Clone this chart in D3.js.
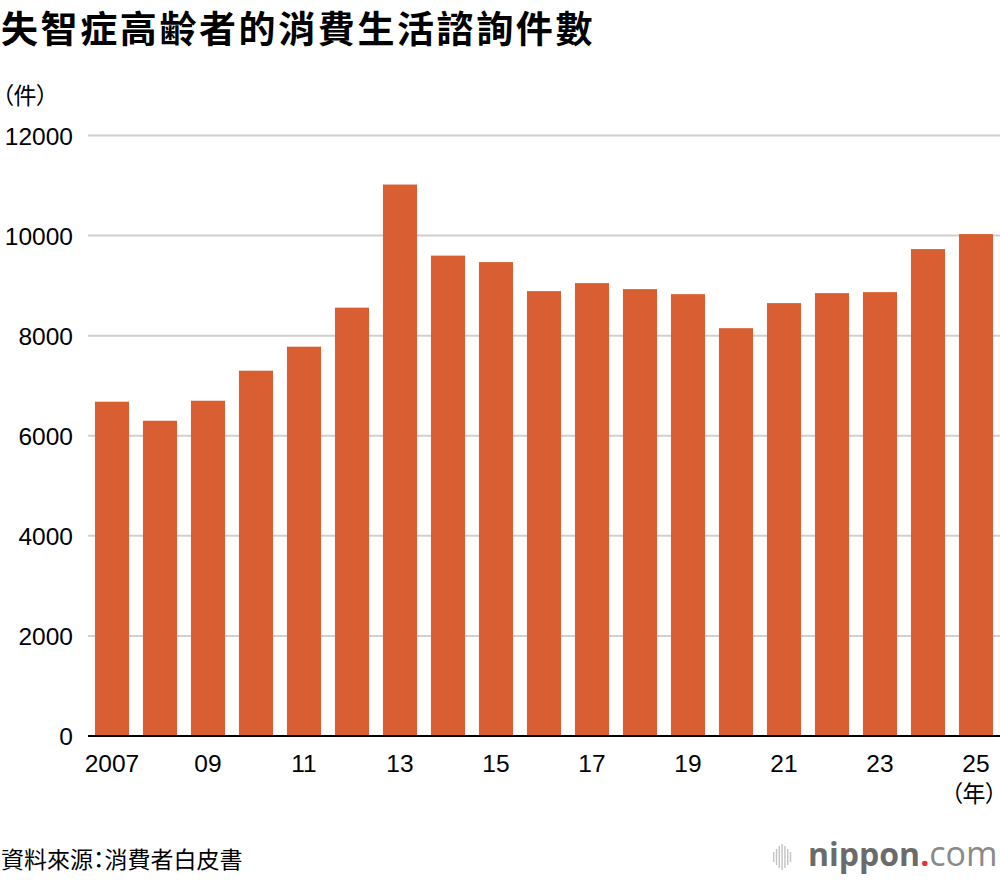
<!DOCTYPE html>
<html><head><meta charset="utf-8">
<script src="https://cdn.jsdelivr.net/npm/d3@7"></script>
<style>body{margin:0;background:#fff;}svg{display:block;font-family:"Noto Sans CJK TC","Noto Sans",sans-serif;}
.palt{font-feature-settings:"palt";}</style>
</head><body>
<svg id="c" width="1000" height="880"></svg>
<script>
const years = ["2007","2008","2009","2010","2011","2012","2013","2014","2015","2016","2017","2018","2019","2020","2021","2022","2023","2024","2025"];
const counts = [6680,6300,6700,7300,7780,8560,11020,9600,9470,8890,9050,8930,8830,8150,8650,8850,8870,9730,10030];
const yTicks = [0,2000,4000,6000,8000,10000,12000];
const xTickLabels = {"2007":"2007","2009":"09","2011":"11","2013":"13","2015":"15","2017":"17","2019":"19","2021":"21","2023":"23","2025":"25"};
const title = "失智症高齢者的消費生活諮詢件數";
const unitY = "（件）";
const unitX = "（年）";
const source = "資料來源：消費者白皮書";

const svg = d3.select("#c");
const x = d3.scaleBand().domain(years).range([88,1000]).paddingInner(0.29).paddingOuter(0.145);
const y = d3.scaleLinear().domain([0,12000]).range([736,135.5]);
const numFont = "'Liberation Sans',Arial,sans-serif";

svg.append("text").attr("x",1).attr("y",43).attr("font-size",37).attr("font-weight","bold").attr("letter-spacing",2.6).attr("fill","#000").text(title);
svg.append("text").attr("class","palt").attr("x",2).attr("y",104).attr("font-size",23).attr("fill","#000").text(unitY);

// gridlines
svg.append("g").selectAll("line").data(yTicks.filter(d=>d>0)).join("line")
  .attr("x1",88).attr("x2",1000).attr("y1",d=>y(d)).attr("y2",d=>y(d))
  .attr("stroke","#cfcfcf").attr("stroke-width",2);

// y labels
svg.append("g").selectAll("text").data(yTicks).join("text")
  .attr("x",73).attr("y",d=>y(d)+9).attr("text-anchor","end")
  .attr("font-family",numFont).attr("font-size",24.5).attr("fill","#000")
  .text(d=>d);

// bars
svg.append("g").selectAll("rect").data(years).join("rect")
  .attr("x",d=>x(d)).attr("width",x.bandwidth())
  .attr("y",(d,i)=>y(counts[i])).attr("height",(d,i)=>y(0)-y(counts[i]))
  .attr("fill","#d95f33");

// baseline
svg.append("line").attr("x1",88).attr("x2",1000).attr("y1",y(0)).attr("y2",y(0)).attr("stroke","#000").attr("stroke-width",2);

// x labels
svg.append("g").selectAll("text").data(years.filter(d=>xTickLabels[d])).join("text")
  .attr("x",d=>x(d)+x.bandwidth()/2).attr("y",772).attr("text-anchor","middle")
  .attr("font-family",numFont).attr("font-size",24.5).attr("fill","#000")
  .text(d=>xTickLabels[d]);
svg.append("text").attr("class","palt").attr("x",x("2025")+x.bandwidth()/2-2).attr("y",802).attr("text-anchor","middle").attr("font-size",23).attr("fill","#000").text(unitX);

// source
svg.append("text").attr("class","palt").attr("x",1).attr("y",868).attr("font-size",23).attr("fill","#000").text(source);

// logo
const logo = svg.append("g");
const barsH = [10,16,22,26,22,16,10];
barsH.forEach((h,i)=>{
  logo.append("rect").attr("x",773+i*2.8).attr("y",857-h/2).attr("width",1.4).attr("height",h).attr("fill","#c4c4c4");
});
const t1 = logo.append("text").attr("x",808).attr("y",866).attr("font-family","'Open Sans',sans-serif").attr("font-size",32).attr("font-weight","bold").attr("fill","#6b6b6b").text("nippon");
const w1 = t1.node().getComputedTextLength();
const t2 = logo.append("text").attr("x",808+w1).attr("y",866).attr("font-family","'Open Sans',sans-serif").attr("font-size",32).attr("font-weight","bold").attr("fill","#e8303a").text(".");
const w2 = t2.node().getComputedTextLength();
logo.append("text").attr("x",808+w1+w2).attr("y",866).attr("font-family","'Open Sans',sans-serif").attr("font-size",34).attr("font-weight","400").attr("fill","#8a8a8a").text("com");
</script>
</body></html>
